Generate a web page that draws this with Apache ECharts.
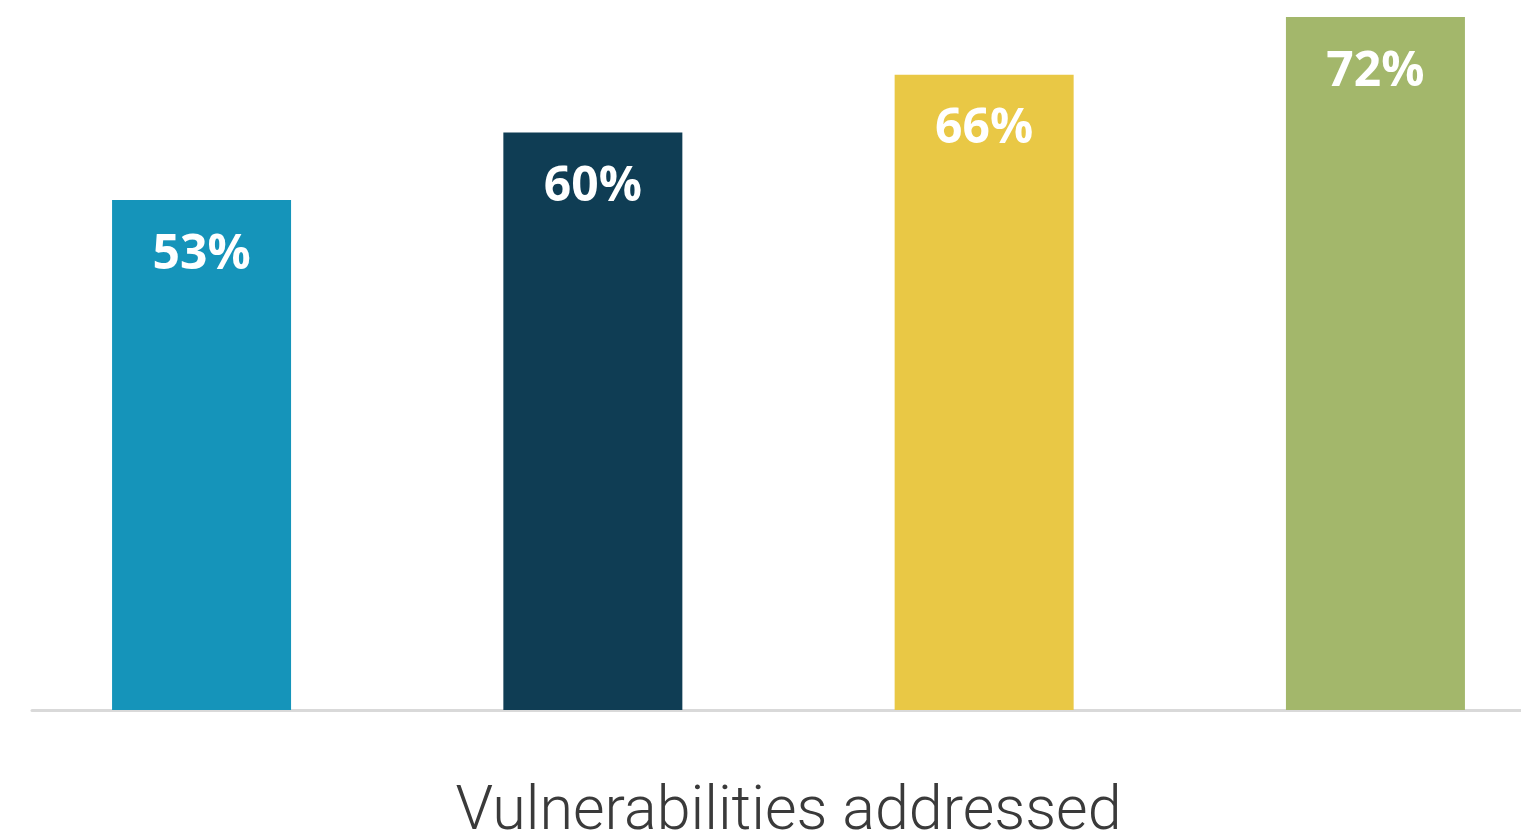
<!DOCTYPE html>
<html><head><meta charset="utf-8">
<script src="https://cdn.jsdelivr.net/npm/echarts@6/dist/echarts.min.js"></script>
<style>html,body{margin:0;padding:0;background:#fff}#c{width:1521px;height:837px}</style>
</head><body><div id="c"></div>
<script>
const categories = ['Vulnerabilities addressed'];
const seriesNames = ['Group 1', 'Group 2', 'Group 3', 'Group 4'];
const seriesValues = [53, 60, 66, 72];
const colors = ['#1594ba', '#0f3d54', '#e9c845', '#a3b76b'];

const chart = echarts.init(document.getElementById('c'), null, {renderer: 'canvas'});
chart.setOption({
  animation: false,
  backgroundColor: '#fff',
  grid: {left: 32, top: 17, width: 1513, bottom: 127, containLabel: false, outerBoundsMode: 'none'},
  xAxis: {
    type: 'category', data: categories,
    axisLine: {lineStyle: {color: '#d9d9d9', width: 3}},
    axisTick: {show: false},
    axisLabel: {color: '#3a3a3a', fontFamily: 'Roboto', fontWeight: 300, fontSize: 61, margin: 73}
  },
  yAxis: {type: 'value', min: 0, max: 72, show: false, splitLine: {show: false}},
  series: seriesValues.map((v, i) => ({
    name: seriesNames[i], type: 'bar', data: [v],
    barWidth: 179, barGap: '118.6%',
    itemStyle: {color: colors[i]},
    label: {show: true, position: 'insideTop', distance: 31, color: '#fff',
      fontFamily: 'Open Sans', fontWeight: 'bold', fontSize: 48, formatter: '{c}%'}
  }))
});
</script></body></html>
